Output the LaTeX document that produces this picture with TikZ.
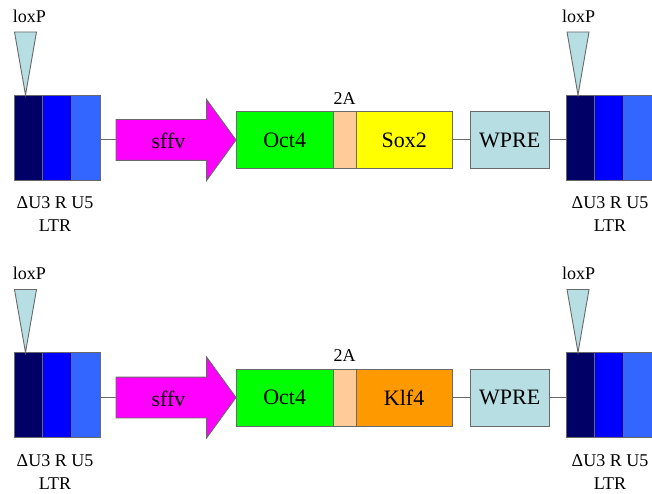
\documentclass[tikz,border=0pt]{standalone}
\usepackage{fontspec}
\setmainfont{Liberation Serif}
\usetikzlibrary{shapes.arrows, positioning}
\definecolor{ltrnavy}{RGB}{0,0,102}
\definecolor{ltrblue}{RGB}{0,0,255}
\definecolor{ltrsky}{RGB}{51,102,255}
\definecolor{sffvpink}{RGB}{255,0,255}
\definecolor{octgreen}{RGB}{0,255,0}
\definecolor{tapeach}{RGB}{255,204,153}
\definecolor{soxyellow}{RGB}{255,255,0}
\definecolor{klforange}{RGB}{255,153,0}
\definecolor{wprecyan}{RGB}{183,222,226}
\definecolor{edgegray}{RGB}{105,105,105}
\tikzset{
  ltrseg/.style={
    rectangle, draw=edgegray, line width=0.9pt,
    minimum width=28.67pt, minimum height=85pt,
    inner sep=0pt, outer sep=0pt
  },
  gene/.style={
    rectangle, draw=edgegray, line width=0.9pt,
    minimum height=57pt, inner sep=0pt, outer sep=0pt,
    font=\fontsize{22}{26}\selectfont
  },
  promo/.style={
    single arrow, draw=edgegray, fill=sffvpink, line width=0.9pt,
    minimum height=120pt, minimum width=80pt,
    single arrow head extend=20pt, single arrow head indent=0pt,
    single arrow tip angle=108, text height=18pt, text depth=0pt,
    inner xsep=0pt, inner ysep=11pt, outer sep=0pt,
    font=\fontsize{22}{26}\selectfont
  },
  lbl/.style={font=\fontsize{18}{23}\selectfont, inner sep=0pt, align=center},
  link/.style={draw=edgegray, line width=1pt},
  loxp/.style={draw=edgegray, fill=wprecyan, line width=0.9pt},
}
\begin{document}
\begin{tikzpicture}[x=1pt, y=-1pt]
  \useasboundingbox (0,0) rectangle (652,494);
  \foreach \r/\oy/\gname/\gcol in {1/0/Sox2/soxyellow, 2/257.5/Klf4/klforange} {
    \begin{scope}[yshift=-\oy pt]
      % 5' LTR
      \node[ltrseg, fill=ltrnavy] (lu\r) at (28.33,137.5) {};
      \node[ltrseg, fill=ltrblue, right=0pt of lu\r] (lr\r) {};
      \node[ltrseg, fill=ltrsky, right=0pt of lr\r] (lv\r) {};
      \draw[loxp] (14.5,32) -- (36.5,32) -- (25.5,95) -- cycle;
      \node[lbl] (xa\r) at (29.5,16) {loxP};
      \node[lbl] (la\r) at (55,214.5) {ΔU3 R U5\\LTR};

      % promoter and cassette
      \node[promo, anchor=tail] (sffv\r) at (116,140) {sffv};
      \node[gene, fill=octgreen, minimum width=97.3pt, anchor=west] (oct\r) at (sffv\r.tip) {Oct4};
      \node[gene, fill=tapeach, minimum width=22.7pt, right=0pt of oct\r] (ta\r) {};
      \node[gene, fill=\gcol, minimum width=96.3pt, right=0pt of ta\r] (gn\r) {\gname};
      \node[lbl, above=7pt of ta\r] (tal\r) {2A};
      \node[gene, fill=wprecyan, minimum width=79.3pt, right=17.7pt of gn\r] (wp\r) {WPRE};

      % 3' LTR
      \node[ltrseg, fill=ltrnavy] (ru\r) at (580.33,137.5) {};
      \node[ltrseg, fill=ltrblue, right=0pt of ru\r] (rr\r) {};
      \node[ltrseg, fill=ltrsky, right=0pt of rr\r] (rv\r) {};
      \draw[loxp] (567,32) -- (589,32) -- (578,95) -- cycle;
      \node[lbl] (xb\r) at (578.5,16) {loxP};
      \node[lbl] (lb\r) at (610,214.5) {ΔU3 R U5\\LTR};

      \draw[link] (sffv\r.tail -| lv\r.east) -- (sffv\r.tail);
      \draw[link] (gn\r) -- (wp\r);
      \draw[link] (wp\r) -- (wp\r -| ru\r.west);
    \end{scope}
  }
\end{tikzpicture}
\end{document}
